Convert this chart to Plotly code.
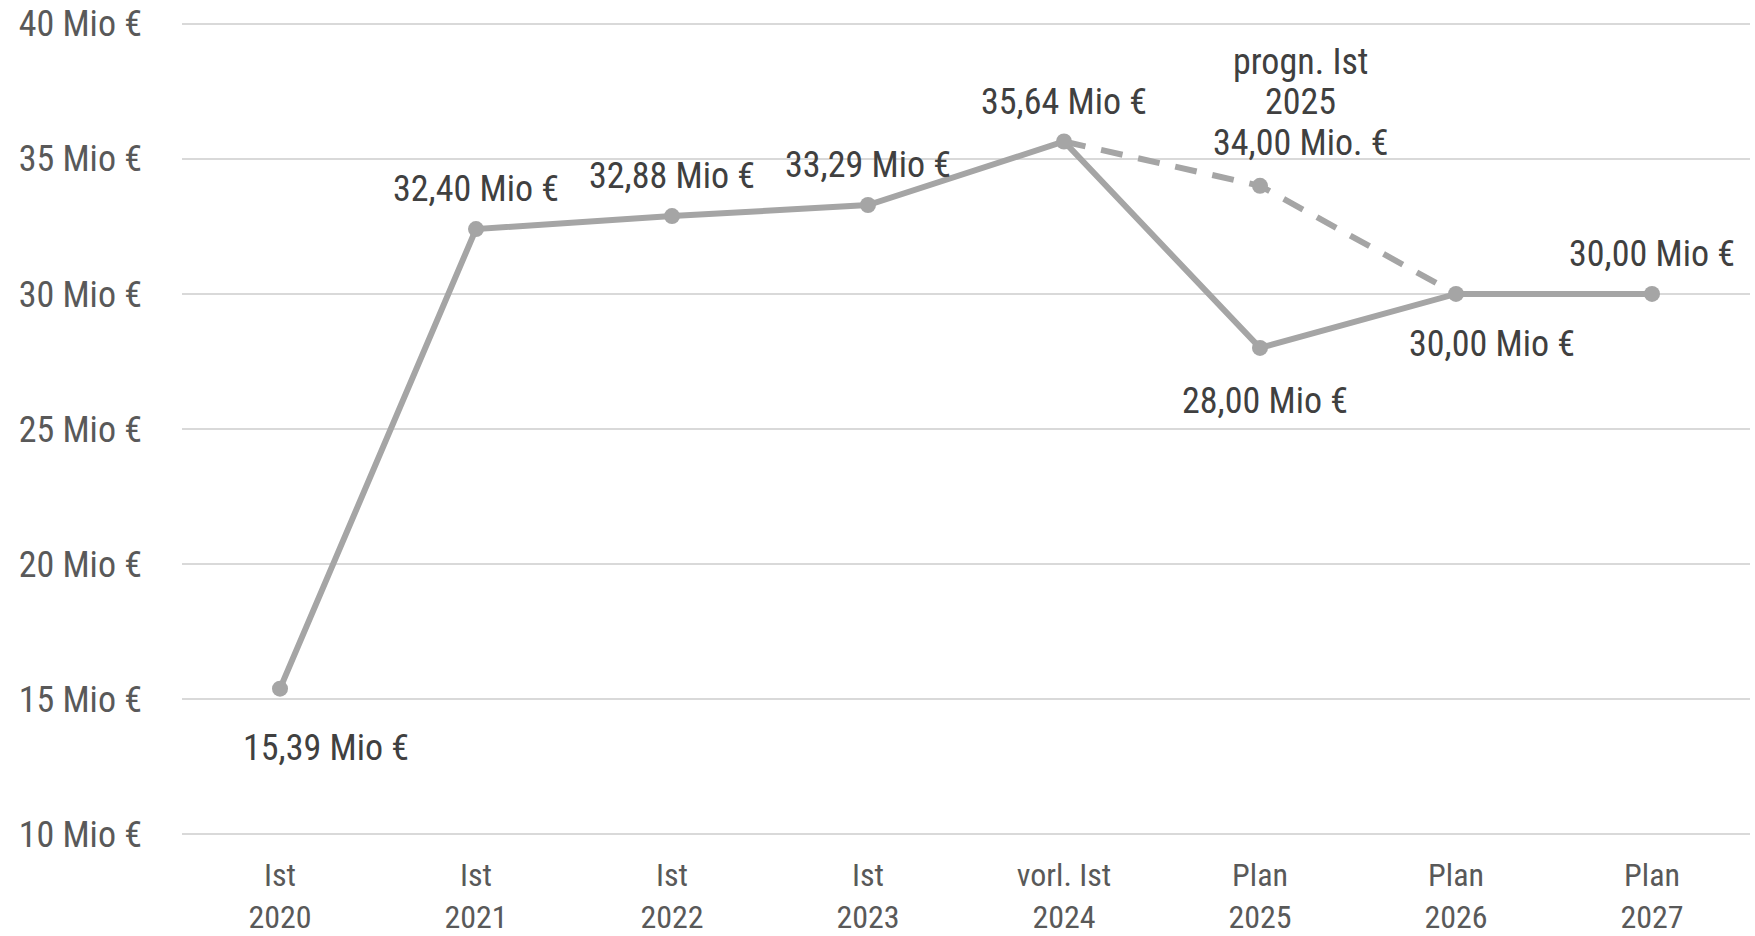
import plotly.graph_objects as go

categories = ["Ist<br>2020", "Ist<br>2021", "Ist<br>2022", "Ist<br>2023",
              "vorl. Ist<br>2024", "Plan<br>2025", "Plan<br>2026", "Plan<br>2027"]
values = [15.39, 32.40, 32.88, 33.29, 35.64, 28.00, 30.00, 30.00]
labels = ["15,39 Mio €", "32,40 Mio €", "32,88 Mio €", "33,29 Mio €",
          "35,64 Mio €", "28,00 Mio €", "30,00 Mio €", "30,00 Mio €"]
label_yshift = [-59, 40, 40, 40, 40, -53, -50, 40]
label_xshift = [46, 0, 0, 0, 0, 5, 36, 0]

forecast_cats = ["vorl. Ist<br>2024", "Plan<br>2025", "Plan<br>2026"]
forecast_vals = [35.64, 34.00, 30.00]
forecast_lines = ["progn. Ist", "2025", "34,00 Mio. €"]
forecast_yshift = [124, 84, 43]

y_ticks = [10, 15, 20, 25, 30, 35, 40]
y_ticktext = [f"{v} Mio €" for v in y_ticks]

FONT = "Liberation Sans Narrow, Roboto Condensed, Arial Narrow, Liberation Sans, sans-serif"
LINE = "#A5A5A5"

fig = go.Figure()
fig.add_trace(go.Scatter(
    x=forecast_cats, y=forecast_vals, mode="lines",
    line=dict(color=LINE, width=6, dash="22px,16px"), hoverinfo="skip", showlegend=False))
fig.add_trace(go.Scatter(
    x=[forecast_cats[1]], y=[forecast_vals[1]], mode="markers",
    marker=dict(color=LINE, size=16), showlegend=False))
fig.add_trace(go.Scatter(
    x=categories, y=values, mode="lines+markers",
    line=dict(color=LINE, width=6), marker=dict(color=LINE, size=16), showlegend=False))

for c, v, t, ys, xs in zip(categories, values, labels, label_yshift, label_xshift):
    fig.add_annotation(x=c, y=v, text=t, showarrow=False, yshift=ys, xshift=xs,
                       font=dict(family=FONT, size=36, color="#404040"))
for t, ys in zip(forecast_lines, forecast_yshift):
    fig.add_annotation(x=forecast_cats[1], y=forecast_vals[1], text=t,
                       showarrow=False, xshift=40, yshift=ys,
                       font=dict(family=FONT, size=36, color="#404040"))

fig.update_layout(
    width=1755, height=936,
    margin=dict(l=182, r=5, t=21, b=99, autoexpand=False),
    plot_bgcolor="white", paper_bgcolor="white",
    font=dict(family=FONT, size=32, color="#595959"),
    xaxis=dict(type="category", categoryorder="array", categoryarray=categories,
               range=[-0.5, 7.5], showgrid=False, showline=False, automargin=False,
               ticks="", ticklabelstandoff=16, ticklabeloverflow="allow",
               tickfont=dict(size=32, color="#595959")),
    yaxis=dict(range=[9.9, 40.1], tickvals=y_ticks, ticktext=y_ticktext,
               showgrid=True, gridcolor="#D9D9D9", gridwidth=2, zeroline=False,
               showline=False, ticks="", ticklabelstandoff=39, automargin=False,
               ticklabeloverflow="allow",
               tickfont=dict(size=36, color="#595959")),
)
fig.write_html("out.html", config={"displayModeBar": False},
               post_script="document.body.style.margin='0';")
